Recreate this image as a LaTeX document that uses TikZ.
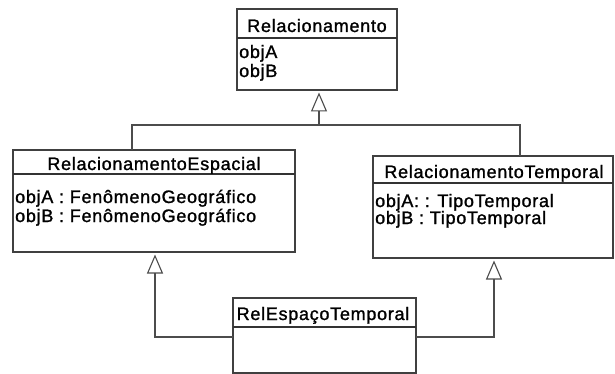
\documentclass[tikz,border=0pt]{standalone}
\usepackage{fontspec}
\setmainfont{Liberation Sans}[LetterSpace=4,FakeBold=1.3]
\usetikzlibrary{arrows.meta}
\begin{document}
\begin{tikzpicture}[x=1pt,y=-1pt,
  box/.style={draw=black!75,line width=1.1pt,inner sep=0,outer sep=0,anchor=north west},
  hline/.style={draw=black!80,line width=1.1pt},
  txt/.style={inner sep=0,font=\fontsize{18}{20}\selectfont,text=black},
  conn/.style={draw=black!70,line width=1.1pt},
  gen/.style={conn,-{Triangle[open,width=16pt,length=19pt,line width=1.1pt]},shorten >=2.5pt}]
\useasboundingbox[fill=white] (0,0) rectangle (615,374);
% class boxes
\node[box,minimum width=160pt,minimum height=81pt] (rel) at (237,9) {};
\node[box,minimum width=282pt,minimum height=102pt] (esp) at (13,150) {};
\node[box,minimum width=240pt,minimum height=102pt] (tmp) at (373,156) {};
\node[box,minimum width=183pt,minimum height=75pt] (ret) at (233,298) {};
% compartment lines
\draw[hline] ([yshift=-29pt]rel.north west) -- ([yshift=-29pt]rel.north east);
\draw[hline] ([yshift=-24pt]esp.north west) -- ([yshift=-24pt]esp.north east);
\draw[hline] ([yshift=-27pt]tmp.north west) -- ([yshift=-27pt]tmp.north east);
\draw[hline] ([yshift=-29pt]ret.north west) -- ([yshift=-29pt]ret.north east);
% texts
\node[txt,anchor=base] (relT) at (317,32) {Relacionamento};
\node[txt,anchor=base west] (relA) at (239,58) {objA};
\node[txt,anchor=base west] (relB) at (239,77) {objB};
\node[txt,anchor=base] (espT) at (154,170) {RelacionamentoEspacial};
\node[txt,anchor=base west] (espA) at (15,203) {objA : FenômenoGeográfico};
\node[txt,anchor=base west] (espB) at (15,222) {objB : FenômenoGeográfico};
\node[txt,anchor=base] (tmpT) at (494,178) {RelacionamentoTemporal};
\node[txt,anchor=base west] (tmpA) at (375,207) {objA: : TipoTemporal};
\node[txt,anchor=base west] (tmpB) at (375,224) {objB : TipoTemporal};
\node[txt,anchor=base] (retT) at (323,320) {RelEspaçoTemporal};
% connectors
\coordinate (j) at (319,125);
\coordinate (jl) at (132,125);
\coordinate (jr) at (520,125);
\draw[conn] (esp.north -| jl) -- (jl) -- (jr) -- (tmp.north -| jr);
\draw[gen] (j) -- (rel.south -| j);
\coordinate (bl) at (155,337);
\coordinate (br) at (494,337);
\draw[gen] (ret.west |- bl) -- (bl) -- (esp.south -| bl);
\draw[gen] (ret.east |- br) -- (br) -- (tmp.south -| br);
\end{tikzpicture}
\end{document}
